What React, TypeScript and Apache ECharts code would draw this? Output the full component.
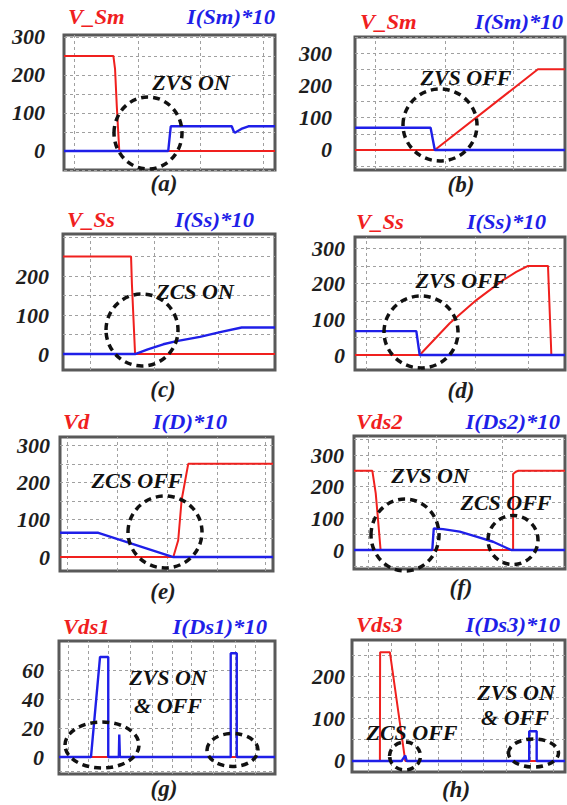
import React, { useEffect, useRef } from "react";
import * as echarts from "echarts";

// ---------- data (x in % of time window, y in V or A*10) ----------
const aRed = [[0, 250], [23.4, 250], [24.2, 215], [25.0, 120], [26.2, 0], [100, 0]];
const aBlue = [[0, 0], [49.4, 0], [50.6, 65], [79.5, 65], [80.4, 52], [81, 48], [84, 58], [87.4, 65], [100, 65]];
const bRed = [[0, 0], [38, 0], [87.1, 250], [100, 250]];
const bBlue = [[0, 69], [36, 69], [38, 0], [100, 0]];
const cRed = [[0, 250], [32.1, 250], [32.5, 180], [34, 0], [100, 0]];
const cBlue = [[0, 0], [34, 0], [40, 12], [47.3, 25], [53.6, 33], [64.6, 44], [74.1, 56], [84.3, 68], [100, 68]];
const dRed = [[0, 0], [30.8, 0], [45.1, 89], [57.8, 154], [70.5, 210], [76.8, 233], [82.4, 250], [91.9, 250], [93.5, 0], [100, 0]];
const dBlue = [[0, 67], [29.2, 67], [30.8, 0], [100, 0]];
const eRed = [[0, 0], [53.2, 0], [55.5, 45], [57.1, 153], [60.2, 250], [100, 250]];
const eBlue = [[0, 65], [18, 65], [53.2, 0], [100, 0]];
const fRed = [[0, 250], [8.7, 250], [10.3, 179], [11.4, 95], [12.6, 0], [75.4, 0], [75.4, 240], [76.7, 247], [77.7, 250], [100, 250]];
const fBlue = [[0, 0], [37.1, 0], [37.8, 68], [42.2, 66], [50.1, 58], [58, 42], [65.9, 26], [74.5, 0], [100, 0]];
const gRed = [[0, 0], [100, 0]];
const gBlue = [[0, 0], [14.8, 0], [19, 69], [22.8, 69], [22.8, 0], [27.7, 0], [27.9, 15.5], [28.2, 0], [79.5, 0], [79.5, 71.6], [82.3, 71.6], [82.3, 0], [100, 0]];
const hRed = [[0, 0], [13.1, 0], [13.2, 256], [17.8, 256], [25, 0], [100, 0]];
const hBlue = [[0, 0], [23.3, 0], [25, 13], [25.7, 0], [83.2, 0], [83.2, 70], [86.7, 70], [86.7, 0], [100, 0]];

const redData = [aRed, bRed, cRed, dRed, eRed, fRed, gRed, hRed];
const blueData = [aBlue, bBlue, cBlue, dBlue, eBlue, fBlue, gBlue, hBlue];

// tick labels
const ticks300 = [0, 100, 200, 300];
const ticks200 = [0, 100, 200];
const ticks60 = [0, 20, 40, 60];
const yTicks = [ticks300, ticks300, ticks200, ticks300, ticks300, ticks300, ticks60, ticks200];

// grid lines (x in %, y in data units)
const gxA = [4.7, 35.1, 64.5, 94.3];
const gxB = [9.5, 42.9, 75.2];
const gxC = [12.7, 42.9, 73.1];
const gxD = [5.2, 31, 57.1, 82.4];
const gxE = [3.3, 26.8, 50.2, 73.7, 96.2];
const gxF = [6.6, 38.9, 70.1];
const gxG = [4.3, 13.6, 22.8, 32.9, 43.0, 52.2, 61.4, 71.4, 81.5, 90.7];
const gxH = [7.7, 18.6, 29.6, 40.5, 51.5, 61.6, 72.6, 83.6, 94.5];
const gy50to300 = [0, 50, 100, 150, 200, 250, 300];
const gyA = [-50, ...gy50to300];
const gyB = [-50, ...gy50to300, 350];
const gyG = [-10, 0, 20, 40, 60];
const gyH = [0, 50, 100, 150, 200, 250];
const gridX = [gxA, gxB, gxC, gxD, gxE, gxF, gxG, gxH];
const gridY = [gyA, gyB, gy50to300, gy50to300, gy50to300, gyB, gyG, gyH];

// texts
const redTitles = ["V_Sm", "V_Sm", "V_Ss", "V_Ss", "Vd", "Vds2", "Vds1", "Vds3"];
const blueTitles = ["I(Sm)*10", "I(Sm)*10", "I(Ss)*10", "I(Ss)*10", "I(D)*10", "I(Ds2)*10", "I(Ds1)*10", "I(Ds3)*10"];
const panelLabels = ["(a)", "(b)", "(c)", "(d)", "(e)", "(f)", "(g)", "(h)"];
const notes = ["ZVS ON", "ZVS OFF", "ZCS ON", "ZVS OFF", "ZCS OFF", "ZVS ON", "ZCS OFF", "ZVS ON", "& OFF", "ZCS OFF", "ZVS ON", "& OFF"];

// ---------- layout ----------
const GRIDS = [
  { left: 64, top: 35, width: 211, height: 135, min: -50, max: 305, margin: 19 },
  { left: 355, top: 37, width: 210, height: 133, min: -62, max: 350, margin: 23 },
  { left: 63, top: 234, width: 212, height: 136, min: -41, max: 308, margin: 14 },
  { left: 355, top: 237, width: 210, height: 133, min: -42, max: 331, margin: 10 },
  { left: 60, top: 437, width: 213, height: 134, min: -37.5, max: 322, margin: 10 },
  { left: 354, top: 436, width: 211, height: 133, min: -60, max: 360, margin: 10 },
  { left: 59, top: 641, width: 216, height: 133, min: -11.7, max: 80, margin: 15 },
  { left: 352, top: 640, width: 213, height: 132, min: -26, max: 285, margin: 7 },
];
const TITLE_POS = [
  { rx: 68, bx: 275, y: 17 },
  { rx: 360, bx: 563, y: 22 },
  { rx: 67, bx: 254, y: 220 },
  { rx: 356, bx: 546, y: 222 },
  { rx: 63, bx: 227, y: 422 },
  { rx: 356, bx: 560, y: 422 },
  { rx: 63, bx: 267, y: 627 },
  { rx: 356, bx: 560, y: 625 },
];
const LABEL_POS = [
  [164, 183], [461, 184], [163, 389], [461, 390], [163, 591], [461, 587], [164, 788], [456, 789],
];
const NOTE_POS = [
  [191, 82], [466, 77], [195, 291], [461, 280], [137, 480], [430, 475], [506, 502],
  [168, 677], [168, 705], [412, 732], [516, 692], [515, 717],
];
const ELLIPSES = [
  [148, 133, 34, 36], [440, 125, 37, 36], [142, 330, 36, 36], [421, 332, 37, 36],
  [165, 532, 37, 36], [405, 535, 34, 36], [513, 540, 25, 24.5],
  [102, 745, 37, 23], [232.5, 750, 25.5, 16.5], [405, 756, 15.5, 14], [533.5, 753, 25, 14],
];

const RED = "#f0201e";
const BLUE = "#1f1fe8";
const FAMILY = "Liberation Serif";

export default function App() {
  const ref = useRef<HTMLDivElement>(null);

  useEffect(() => {
    if (!ref.current) return;
    const chart = echarts.init(ref.current, null, { renderer: "svg" });

    const grid = GRIDS.map((g) => ({
      left: g.left, top: g.top, width: g.width, height: g.height,
      show: true, borderColor: "#595959", borderWidth: 3, backgroundColor: "#fff",
    }));
    const xAxis = GRIDS.map((_, i) => ({
      type: "value", gridIndex: i, min: 0, max: 100, show: false,
    }));
    const yAxis = GRIDS.map((g, i) => ({
      type: "value", gridIndex: i, min: g.min, max: g.max,
      axisLine: { show: false }, axisTick: { show: false }, splitLine: { show: false },
      axisLabel: {
        customValues: yTicks[i], margin: g.margin, fontFamily: FAMILY, fontWeight: "bold",
        fontStyle: "italic", fontSize: 22, color: "#1e1e1e",
      },
    }));
    const series: any[] = [];
    GRIDS.forEach((_, i) => {
      series.push({
        type: "line", xAxisIndex: i, yAxisIndex: i, data: [], symbol: "none", silent: true, z: 1,
        markLine: {
          silent: true, symbol: ["none", "none"], z: 1, animation: false,
          label: { show: false }, emphasis: { disabled: true },
          lineStyle: { type: [3, 3], color: "#a0a0a0", width: 1 },
          data: [...gridX[i].map((v) => ({ xAxis: v })), ...gridY[i].map((v) => ({ yAxis: v }))],
        },
      });
      series.push({
        type: "line", xAxisIndex: i, yAxisIndex: i, data: redData[i], symbol: "none", showSymbol: false,
        silent: true, z: 3, lineStyle: { color: RED, width: 2 },
      });
      series.push({
        type: "line", xAxisIndex: i, yAxisIndex: i, data: blueData[i], symbol: "none", showSymbol: false,
        silent: true, z: 4, lineStyle: { color: BLUE, width: 2.4 },
      });
    });

    const txt = (text: string, x: number, y: number, fill: string, size: number, align: string, scaleX = 1) => ({
      type: "text", x, y, scaleX, z: 100, silent: true,
      style: {
        text, fill, fontFamily: FAMILY, fontWeight: "bold", fontStyle: "italic",
        fontSize: size, textAlign: align, textVerticalAlign: "middle",
      },
    });

    const graphic: any[] = [];
    TITLE_POS.forEach((p, i) => {
      graphic.push(txt(redTitles[i], p.rx, p.y, RED, 21, "left", 1.08));
      graphic.push(txt(blueTitles[i], p.bx, p.y, BLUE, 21, "right", 1.08));
    });
    LABEL_POS.forEach((p, i) => {
      graphic.push(txt(panelLabels[i], p[0], p[1], "#1e1e1e", 23, "center"));
    });
    NOTE_POS.forEach((p, i) => {
      graphic.push(txt(notes[i], p[0], p[1], "#111", 22, "center"));
    });
    ELLIPSES.forEach((e) => {
      graphic.push({
        type: "ellipse", z: 101, silent: true,
        shape: { cx: e[0], cy: e[1], rx: e[2], ry: e[3] },
        style: { fill: "none", stroke: "#111", lineWidth: 3.5, lineDash: [7, 5] },
      });
    });

    chart.setOption({
      animation: false,
      backgroundColor: "#fff",
      textStyle: { fontFamily: FAMILY },
      grid, xAxis, yAxis, series, graphic,
    });
    return () => chart.dispose();
  }, []);

  return (
    <div
      ref={ref}
      style={{ position: "absolute", left: 0, top: 0, width: 567, height: 805, background: "#fff" }}
    />
  );
}
